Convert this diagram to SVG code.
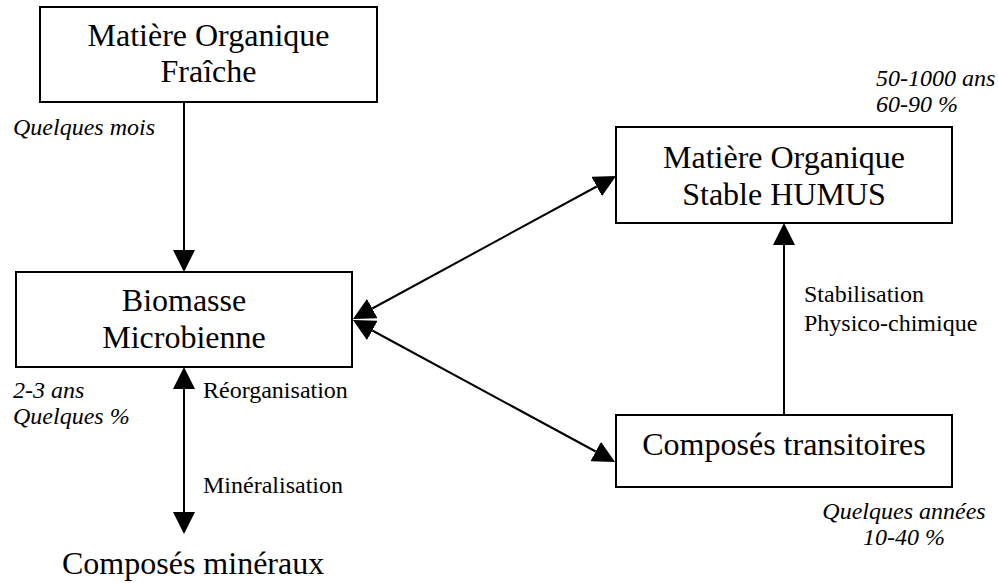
<svg xmlns="http://www.w3.org/2000/svg" width="998" height="583" viewBox="0 0 998 583">
<style>
.box{fill:#fff;stroke:#000;stroke-width:2}
.big{font-family:"Liberation Serif","Times New Roman",serif;font-size:32px;fill:#000}
.mid{text-anchor:middle}
.lbl{font-family:"Liberation Serif","Times New Roman",serif;font-size:24px;fill:#000}
.it{font-style:italic}
.con{stroke:#000;stroke-width:2;fill:none;marker-end:url(#ah)}
.dbl{marker-start:url(#ah)}
</style>
<defs>
<marker id="ah" viewBox="0 0 22 22" refX="0" refY="11" markerWidth="22" markerHeight="22" markerUnits="userSpaceOnUse" orient="auto-start-reverse">
<path d="M0,0 L22,11 L0,22 Z" fill="#000"/>
</marker>
</defs>
<rect width="998" height="583" fill="#fff"/>
<g id="connectors">
<line class="con" x1="184" y1="102" x2="184" y2="250"/>
<line class="con dbl" x1="184" y1="389" x2="184" y2="512"/>
<line class="con" x1="784" y1="415" x2="784" y2="245"/>
<line class="con dbl" x1="372.3" y1="308.5" x2="596.7" y2="186.5"/>
<line class="con dbl" x1="372.3" y1="330.5" x2="595.7" y2="451.5"/>
</g>
<g id="mof">
<rect class="box" x="40" y="7" width="337" height="95"/>
<text class="big mid" x="208.5" y="46">Matière Organique</text>
<text class="big mid" x="208.5" y="82">Fraîche</text>
</g>
<g id="biomasse">
<rect class="box" x="16" y="272" width="336" height="95"/>
<text class="big mid" x="184" y="311">Biomasse</text>
<text class="big mid" x="184" y="348">Microbienne</text>
</g>
<g id="humus">
<rect class="box" x="616" y="127" width="336" height="96"/>
<text class="big mid" x="784" y="168">Matière Organique</text>
<text class="big mid" x="784" y="205">Stable HUMUS</text>
</g>
<g id="transitoires">
<rect class="box" x="616" y="415" width="336" height="72"/>
<text class="big mid" x="784" y="455">Composés transitoires</text>
</g>
<g id="mineraux">
<text class="big" x="62" y="574">Composés minéraux</text>
</g>
<g id="labels">
<text class="lbl it" x="13" y="135">Quelques mois</text>
<text class="lbl it" x="13" y="398">2-3 ans</text>
<text class="lbl it" x="13" y="424">Quelques %</text>
<text class="lbl" x="203" y="398">Réorganisation</text>
<text class="lbl" x="203" y="493">Minéralisation</text>
<text class="lbl" x="804" y="302">Stabilisation</text>
<text class="lbl" x="804" y="331">Physico-chimique</text>
<text class="lbl it" x="876" y="86">50-1000 ans</text>
<text class="lbl it" x="876" y="112">60-90 %</text>
<text class="lbl it mid" x="904" y="519">Quelques années</text>
<text class="lbl it mid" x="904" y="545">10-40 %</text>
</g>
</svg>
